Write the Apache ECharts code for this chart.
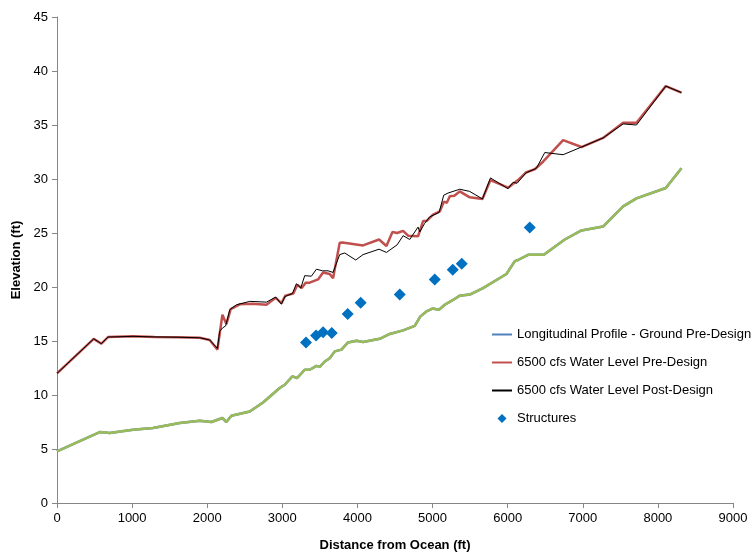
<!DOCTYPE html>
<html>
<head>
<meta charset="utf-8">
<script src="https://cdn.jsdelivr.net/npm/echarts@6/dist/echarts.min.js"></script>
<style>html,body{margin:0;padding:0;background:#fff}#c{width:752px;height:554px}</style>
</head>
<body>
<div id="c"></div>
<script>
const seriesNames = ['Longitudinal Profile - Ground Pre-Design', '6500 cfs Water Level Pre-Design', '6500 cfs Water Level Post-Design', 'Structures'];
const xTicks = [0, 1000, 2000, 3000, 4000, 5000, 6000, 7000, 8000, 9000];
const yTicks = [0, 5, 10, 15, 20, 25, 30, 35, 40, 45];

const groundX = [0,569,702,1012,1278,1634,1900,2056,2202,2255,2322,2566,2743,2965,3032,3134,3196,3298,3365,3454,3498,3565,3631,3698,3787,3875,3986,4075,4297,4430,4608,4763,4838,4919,4999,5087,5162,5273,5362,5495,5672,5984,6095,6138,6272,6481,6760,6983,7270,7537,7715,8105,8314];
const groundY = [4.78,6.57,6.48,6.79,6.94,7.4,7.62,7.5,7.87,7.5,8.08,8.48,9.3,10.65,10.95,11.72,11.57,12.34,12.34,12.7,12.6,13.1,13.4,14.04,14.2,14.87,15.03,14.9,15.2,15.65,15.98,16.4,17.28,17.74,18.0,17.9,18.36,18.8,19.2,19.3,19.9,21.2,22.4,22.5,22.98,22.98,24.4,25.24,25.6,27.46,28.2,29.17,31.0];

const preX = [0,489,591,679,1012,1300,1600,1900,2033,2136,2202,2255,2313,2433,2600,2788,2912,2988,3040,3147,3200,3258,3311,3364,3476,3542,3631,3675,3764,3800,4075,4288,4386,4466,4528,4608,4674,4807,4874,4919,5007,5096,5150,5190,5230,5290,5362,5495,5664,5771,6005,6138,6241,6361,6471,6605,6738,6983,7270,7537,7715,8105,8314];
const preY = [12.0,15.2,14.75,15.37,15.43,15.38,15.35,15.3,15.1,14.2,17.43,16.57,17.96,18.4,18.45,18.36,19.0,18.5,19.2,19.4,20.2,19.9,20.4,20.4,20.7,21.35,21.2,20.8,24.1,24.13,23.85,24.4,23.8,25.1,25.0,25.2,24.75,24.7,26.1,26.1,26.7,27.0,27.9,27.8,28.4,28.45,28.85,28.3,28.15,29.9,29.2,29.9,30.6,30.9,31.6,32.6,33.6,32.96,33.8,35.2,35.2,38.6,38.0];

const postX = [0,489,591,679,1012,1300,1600,1900,2033,2136,2166,2202,2246,2300,2388,2566,2788,2912,2988,3032,3134,3187,3245,3298,3387,3454,3534,3609,3675,3764,3831,3977,4075,4288,4386,4528,4608,4696,4807,4830,4896,4963,5087,5149,5206,5362,5495,5664,5771,6005,6072,6125,6241,6383,6494,6738,6983,7270,7537,7715,8105,8314];
const postY = [12.0,15.2,14.75,15.37,15.43,15.38,15.35,15.3,15.1,14.3,15.9,16.2,16.4,17.9,18.35,18.67,18.6,19.07,18.4,19.1,19.4,20.3,19.9,21.05,21.0,21.65,21.5,21.5,21.35,23.0,23.15,22.5,23.0,23.5,23.2,23.9,24.75,24.4,25.55,25.1,25.9,26.5,26.9,28.5,28.7,29.05,28.85,28.15,30.1,29.1,29.7,29.6,30.55,31.0,32.45,32.25,32.96,33.8,35.1,35.0,38.6,38.0];

const structX = [3315,3449,3542,3658,3870,4043,4563,5029,5269,5389,6294];
const structY = [14.85,15.5,15.8,15.75,17.5,18.55,19.3,20.7,21.6,22.15,25.5];

const pairs = (xs, ys) => xs.map((x, i) => [x, ys[i]]);
const FONT = 'Liberation Sans';
const LINE_ICON = 'path://M0,0L20,0L20,2L0,2Z';
const DIAMOND_ICON = 'path://M5,0L10,5L5,10L0,5Z';

const chart = echarts.init(document.getElementById('c'), null, {renderer: 'canvas'});
chart.setOption({
  backgroundColor: '#fff',
  animation: false,
  textStyle: {fontFamily: FONT},
  grid: {left: 57, right: 19, top: 17, bottom: 51, containLabel: false, outerBoundsMode: 'none'},
  legend: {
    data: seriesNames.map((n, i) => ({name: n, icon: i === 3 ? DIAMOND_ICON : LINE_ICON})),
    orient: 'vertical',
    left: 487, top: 323,
    itemWidth: 20, itemHeight: 9, itemGap: 15,
    symbolKeepAspect: true,
    textStyle: {fontFamily: FONT, fontSize: 13, color: '#000'}
  },
  xAxis: {
    type: 'value', min: xTicks[0], max: xTicks[xTicks.length - 1], interval: 1000,
    name: 'Distance from Ocean (ft)', nameLocation: 'middle', nameGap: 36,
    nameTextStyle: {fontFamily: FONT, fontWeight: 'bold', fontSize: 13, color: '#000'},
    axisLine: {show: true, lineStyle: {color: '#868686', width: 1}},
    axisTick: {show: true, inside: false, length: 5, lineStyle: {color: '#868686'}},
    axisLabel: {fontFamily: FONT, fontSize: 13, color: '#000', margin: 9, formatter: v => String(v)},
    splitLine: {show: false}
  },
  yAxis: {
    type: 'value', min: yTicks[0], max: yTicks[yTicks.length - 1], interval: 5,
    name: 'Elevation (ft)', nameLocation: 'middle', nameGap: 34,
    nameTextStyle: {fontFamily: FONT, fontWeight: 'bold', fontSize: 13, color: '#000'},
    axisLine: {show: true, lineStyle: {color: '#868686', width: 1}},
    axisTick: {show: true, inside: false, length: 5, lineStyle: {color: '#868686'}},
    axisLabel: {fontFamily: FONT, fontSize: 13, color: '#000', margin: 9, formatter: v => String(v)},
    splitLine: {show: false}
  },
  series: [
    {name: seriesNames[0], type: 'line', data: pairs(groundX, groundY), symbol: 'none',
      lineStyle: {color: '#4F81BD', width: 2.5}, itemStyle: {color: '#4F81BD'}, z: 2},
    {name: seriesNames[1], type: 'line', data: pairs(preX, preY), symbol: 'none',
      lineStyle: {color: '#C0504D', width: 2.5}, itemStyle: {color: '#C0504D'}, z: 3},
    {name: seriesNames[2], type: 'line', data: pairs(postX, postY), symbol: 'none',
      lineStyle: {color: '#000000', width: 1}, itemStyle: {color: '#000000'}, z: 4},
    {name: seriesNames[3], type: 'scatter', data: pairs(structX, structY), symbol: 'diamond',
      symbolSize: 12, itemStyle: {color: '#0070C0', opacity: 1}, z: 5},
    {name: 'Ground Post-Design', type: 'line', data: pairs(groundX, groundY), symbol: 'none',
      lineStyle: {color: '#9BBB59', width: 2.5}, itemStyle: {color: '#9BBB59'}, z: 3}
  ]
});
</script>
</body>
</html>
